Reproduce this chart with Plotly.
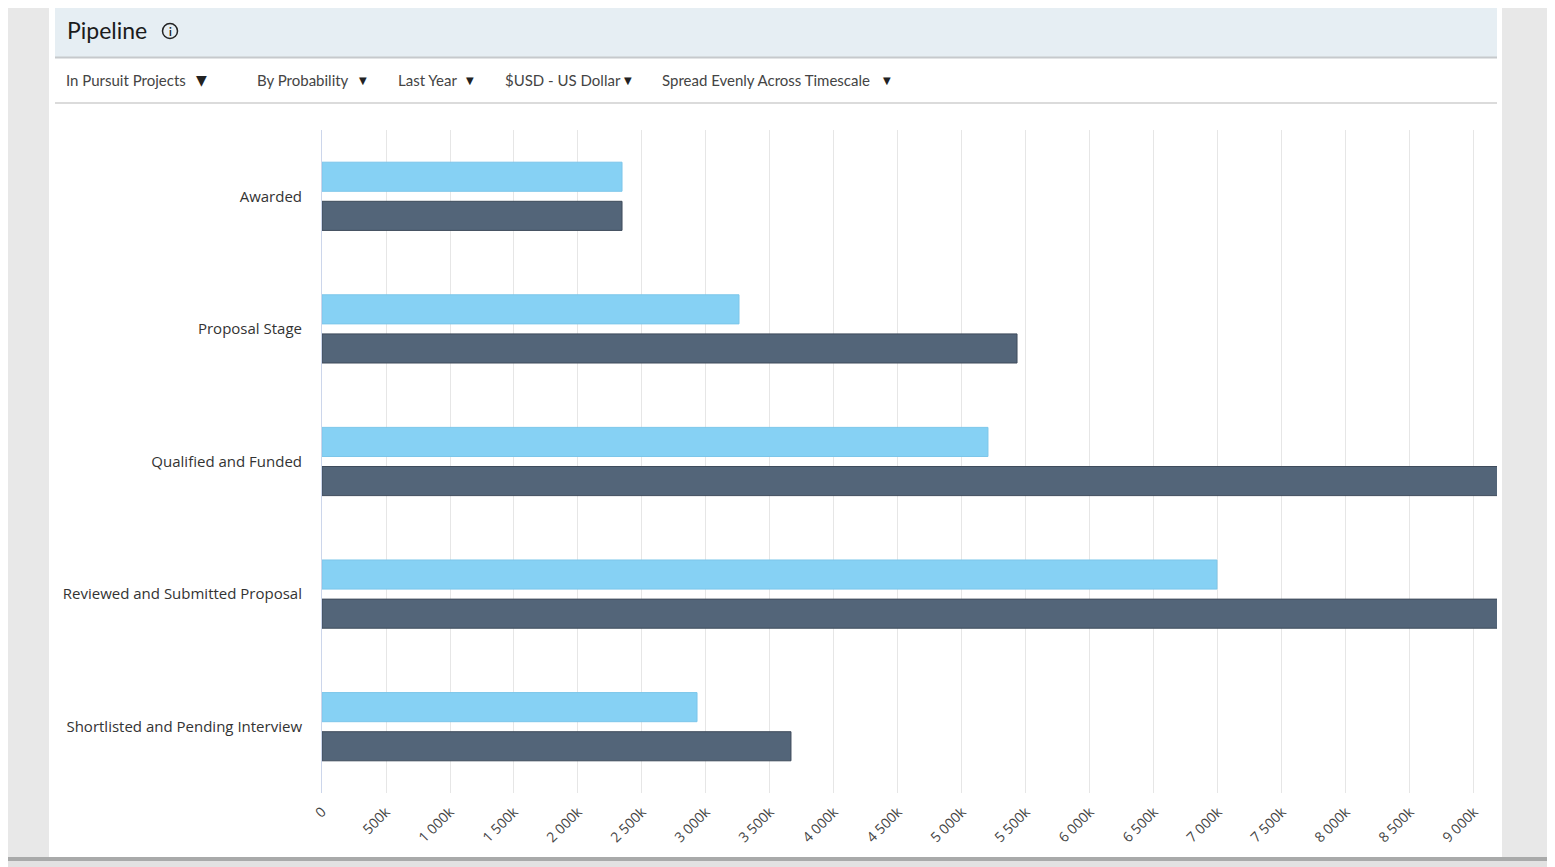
import plotly.graph_objects as go

# Data (values in thousands of USD)
stages = ["Awarded", "Proposal Stage", "Qualified and Funded",
          "Reviewed and Submitted Proposal", "Shortlisted and Pending Interview"]
weighted = [2344, 3258, 5203, 6992, 2930]
unweighted = [2344, 5430, 9600, 9750, 3664]
tick_values = [0, 500, 1000, 1500, 2000, 2500, 3000, 3500, 4000, 4500,
               5000, 5500, 6000, 6500, 7000, 7500, 8000, 8500, 9000]
tick_labels = ["0", "500k", "1 000k", "1 500k", "2 000k", "2 500k", "3 000k",
               "3 500k", "4 000k", "4 500k", "5 000k", "5 500k", "6 000k",
               "6 500k", "7 000k", "7 500k", "8 000k", "8 500k", "9 000k"]
filters = ["In Pursuit Projects", "By Probability", "Last Year",
           "$USD - US Dollar", "Spread Evenly Across Timescale"]

# page body has an 8px margin, so work in page pixels minus 8
OFF = 8
W, H = 1555 - OFF, 867 - OFF
L, R, T, B = 322 - OFF, 1497 - OFF, 130 - OFF, 793 - OFF


def px(x):
    return (x - OFF - L) / (R - L)


def py(y):
    return (B - (y - OFF)) / (B - T)


fig = go.Figure()
fig.add_trace(go.Bar(
    y=stages, x=weighted, orientation="h", name="Weighted",
    marker=dict(color="#86d1f4", line=dict(color="#7cc6ea", width=1)),
))
fig.add_trace(go.Bar(
    y=stages, x=unweighted, orientation="h", name="Total",
    marker=dict(color="#536579", line=dict(color="#3e4b5b", width=1)),
))

shapes = [
    # card
    dict(type="rect", xref="paper", yref="paper", x0=px(49), x1=px(1502), y0=py(857), y1=py(2),
         fillcolor="white", line=dict(width=0), layer="below"),
    # header band
    dict(type="rect", xref="paper", yref="paper", x0=px(55), x1=px(1497), y0=py(57), y1=py(5),
         fillcolor="#e6eef3", line=dict(width=0), layer="below"),
    dict(type="line", xref="paper", yref="paper", x0=px(55), x1=px(1497), y0=py(57.5), y1=py(57.5),
         line=dict(color="#c6c9cc", width=2)),
    dict(type="line", xref="paper", yref="paper", x0=px(55), x1=px(1497), y0=py(103), y1=py(103),
         line=dict(color="#cfcfcf", width=1.5)),
    # bottom strip
    dict(type="rect", xref="paper", yref="paper", x0=px(0), x1=px(1555), y0=py(867), y1=py(857),
         fillcolor="#e2e2e2", line=dict(width=0), layer="below"),
    dict(type="rect", xref="paper", yref="paper", x0=px(0), x1=px(1555), y0=py(861), y1=py(857),
         fillcolor="#a9aaaa", line=dict(width=0), layer="below"),
    # info icon
    dict(type="circle", xref="paper", yref="paper", x0=px(162.5), x1=px(177.5), y0=py(38.5), y1=py(23.5),
         line=dict(color="#222", width=1.5)),
]

annotations = [
    dict(text="Pipeline", x=px(65), y=py(30), xref="paper", yref="paper", xanchor="left",
         yanchor="middle", showarrow=False, font=dict(family="Lato", size=23, color="#1b1b1b")),
    dict(text="<b>i</b>", x=px(170), y=py(31), xref="paper", yref="paper", xanchor="center",
         yanchor="middle", showarrow=False, font=dict(family="Lato", size=11, color="#222")),
]

filter_x = [64, 255, 396, 503, 660]
arrow_x = [201, 363, 470, 628, 887]
for i, (label, fx, ax) in enumerate(zip(filters, filter_x, arrow_x)):
    annotations.append(dict(text=label, x=px(fx), y=py(80), xref="paper", yref="paper",
                            xanchor="left", yanchor="middle", showarrow=False,
                            font=dict(family="Lato", size=15, color="#444")))
    annotations.append(dict(text="▼", x=px(ax), y=py(80), xref="paper", yref="paper",
                            xanchor="center", yanchor="middle", showarrow=False,
                            font=dict(family="DejaVu Sans", size=14 if i == 0 else 10, color="#222")))

fig.update_layout(
    width=W, height=H,
    margin=dict(l=L, r=W - R, t=T, b=H - B, pad=0),
    paper_bgcolor="#e8e8e8",
    plot_bgcolor="white",
    barmode="group",
    bargap=0.41,
    bargroupgap=0.256,
    showlegend=False,
    shapes=shapes,
    annotations=annotations,
    font=dict(family="Open Sans", color="#333"),
    xaxis=dict(
        range=[0, 9180], tickvals=tick_values, ticktext=tick_labels,
        tickangle=-45, showgrid=True, gridcolor="#e6e6e6", gridwidth=1,
        zeroline=False, showline=False, ticks="", ticklabelstandoff=7,
        tickfont=dict(family="Open Sans", size=14, color="#444"),
        fixedrange=True,
    ),
    yaxis=dict(
        autorange="reversed", showline=True, linecolor="#ccd6eb", linewidth=1,
        showgrid=False, ticks="", ticklabelstandoff=16,
        tickfont=dict(family="Open Sans", size=15, color="#333"),
        fixedrange=True,
    ),
)

fig.write_html("out.html")
